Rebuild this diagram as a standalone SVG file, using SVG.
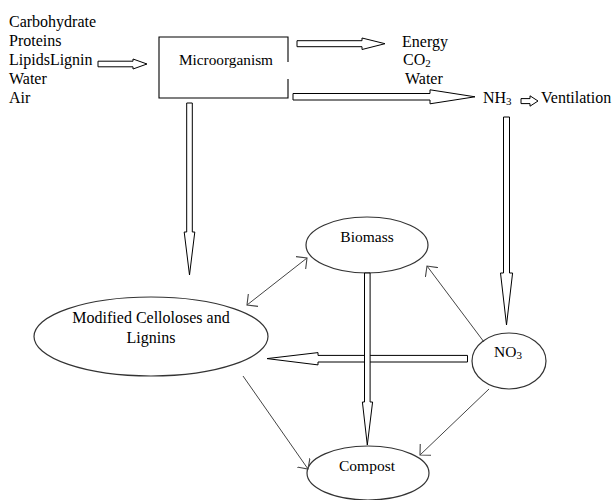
<svg xmlns="http://www.w3.org/2000/svg" width="616" height="500" viewBox="0 0 616 500">
<defs>
<style>
.sub{font-size:11px}
.node{fill:#fff;stroke:#333;stroke-width:1.2}
.box{fill:none;stroke:#000;stroke-width:1.1}
.block{fill:#fff;stroke:#000;stroke-width:1;stroke-linejoin:miter}
.thin{fill:none;stroke:#444;stroke-width:1}
</style>
<marker id="open" viewBox="0 0 10 16" refX="8" refY="8" markerWidth="10" markerHeight="16" markerUnits="userSpaceOnUse" orient="auto-start-reverse">
<path d="M0,0 L8,8 L0,16" fill="none" stroke="#444" stroke-width="1.1"/>
</marker>
</defs>
<rect width="616" height="500" fill="#fff"/>

<g font-family="'Liberation Serif', 'Times New Roman', serif" font-size="16" fill="#000">
<g id="inputs">
<text x="9" y="26.5">Carbohydrate</text>
<text x="9" y="45.6">Proteins</text>
<text x="9" y="64.8">LipidsLignin</text>
<text x="9" y="84">Water</text>
<text x="9" y="103">Air</text>
</g>

<g id="microorganism">
<path class="box" d="M288,62 V37 H159 V98 H288 V79"/>
<text x="226" y="65" text-anchor="middle" font-size="15.3">Microorganism</text>
</g>

<g id="outputs">
<text x="402" y="46.5">Energy</text>
<text x="403" y="65.3">CO<tspan class="sub" dy="2">2</tspan></text>
<text x="405" y="84.3">Water</text>
</g>

<g id="nh3">
<text x="483" y="103.3">NH<tspan class="sub" dy="1.5">3</tspan></text>
</g>

<g id="ventilation">
<text x="541" y="103.3">Ventilation</text>
</g>

<g id="biomass">
<ellipse class="node" cx="367" cy="245" rx="61" ry="28"/>
<text x="367" y="241.7" text-anchor="middle" font-size="15.5">Biomass</text>
</g>

<g id="modified">
<ellipse class="node" cx="151" cy="336.5" rx="117" ry="39.5"/>
<text x="151" y="323" text-anchor="middle">Modified Celloloses and</text>
<text x="151" y="343" text-anchor="middle">Lignins</text>
</g>

<g id="no3">
<ellipse class="node" cx="509" cy="361" rx="37" ry="28"/>
<text x="494" y="357.3" font-size="15.5">NO<tspan class="sub" dy="2">3</tspan></text>
</g>

<g id="compost">
<ellipse class="node" cx="368" cy="473" rx="61" ry="27"/>
<text x="367" y="471" text-anchor="middle" font-size="15.5">Compost</text>
</g>
</g>

<g id="connectors">
<polygon class="block" points="98,61.2 133,61.2 133,59 147,64 133,69 133,66.8 98,66.8"/>
<polygon class="block" points="297,40.7 362,40.7 362,38 385,43.7 362,49.5 362,46.7 297,46.7"/>
<polygon class="block" points="293,93.5 430,93.5 430,89.8 475,96.8 430,103.8 430,100 293,100"/>
<polygon class="block" points="521,98.6 530,98.6 530,95.8 538,101 530,106.2 530,103.6 521,103.6"/>
<polygon class="block" points="186.7,103 192.3,103 192.3,232 194.8,232 189.5,275 184.2,232 186.7,232"/>
<polygon class="block" points="503.5,117 509.5,117 509.5,273 512.6,273 506.5,325 500.5,273 503.5,273"/>
<polygon class="block" points="467.5,355.4 318,355.4 318,352.6 267,358.6 318,364.9 318,362 467.5,362"/>
<polygon class="block" points="364.5,273 370.1,273 370.1,402 372.6,402 367.3,445 362.4,402 364.5,402"/>
<line class="thin" x1="247" y1="305" x2="307" y2="258" marker-start="url(#open)" marker-end="url(#open)"/>
<line class="thin" x1="484" y1="342" x2="427" y2="266" marker-end="url(#open)"/>
<line class="thin" x1="243" y1="376" x2="308" y2="469" marker-end="url(#open)"/>
<line class="thin" x1="489" y1="389" x2="420" y2="455" marker-end="url(#open)"/>
</g>
</svg>
